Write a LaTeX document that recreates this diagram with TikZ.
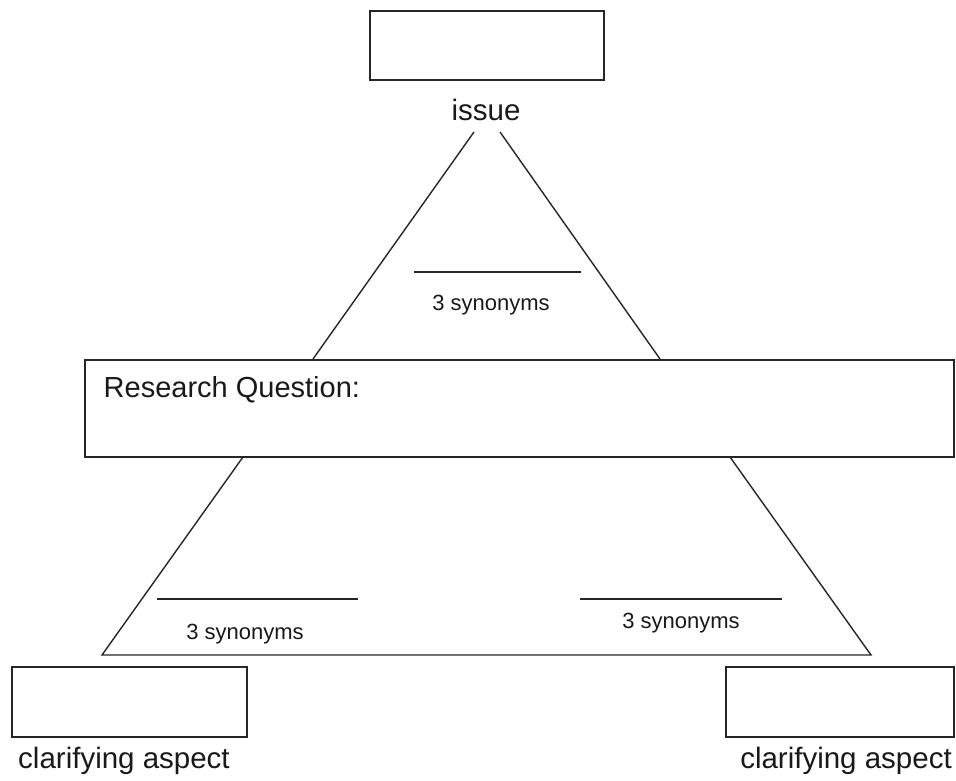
\documentclass[tikz,border=0pt]{standalone}
\usepackage{fontspec}
\setmainfont{Liberation Sans}
\begin{document}
\begin{tikzpicture}[x=1pt,y=-1pt,
  line width=1.4pt, draw=black!85,
  box/.style={draw=black!85, line width=1.4pt, inner sep=0pt, outer sep=0pt, rectangle},
  lbl/.style={font=\fontsize{29.5}{32}\selectfont, anchor=base, inner sep=0pt, text=black!90},
  syn/.style={font=\fontsize{22}{24}\selectfont, anchor=base, inner sep=0pt, text=black!90},
  rq/.style={font=\fontsize{29}{32}\selectfont, anchor=base west, inner sep=0pt, text=black!90}]
\useasboundingbox (0,0) rectangle (956,781);
% boxes
\node[box, minimum width=234pt, minimum height=69pt] (issuebox) at (487,45.5) {};
\node[box, minimum width=869pt, minimum height=97pt] (rqbox) at (519.5,408.5) {};
\node[box, minimum width=235pt, minimum height=70pt] (cleft) at (129.5,702) {};
\node[box, minimum width=228pt, minimum height=70pt] (cright) at (840,702) {};
% labels
\node[lbl] (issue) at (486,121) {issue};
\node[rq] (rqtext) at (103,397) {Research Question:};
\node[lbl] (clA) at (124,768) {clarifying aspect};
\node[lbl] (clB) at (846,768) {clarifying aspect};
% upper triangle
\coordinate (tl) at (474,132);
\coordinate (tr) at (500,132);
\draw (tl) -- (313,359);
\draw (tr) -- (660,359);
\draw (414,272) -- (581,272);
\node[syn] (s1) at (491,310) {3 synonyms};
% lower trapezoid
\draw (243,457) -- (102,655) -- (871,655) -- (730,457);
\draw (157,599) -- (358,599);
\draw (580,599) -- (782,599);
\node[syn] (s2) at (245,639) {3 synonyms};
\node[syn] (s3) at (681,628) {3 synonyms};
\end{tikzpicture}
\end{document}
